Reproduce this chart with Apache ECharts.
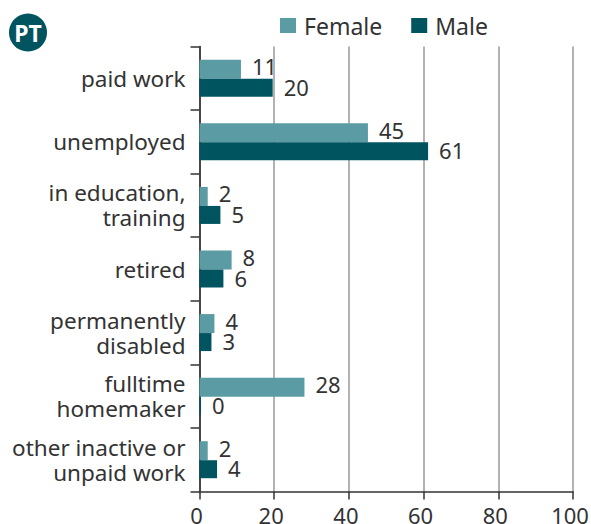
<!DOCTYPE html>
<html><head><meta charset="utf-8">
<style>html,body{margin:0;padding:0;background:#fff}#c{width:591px;height:524px}</style>
<script src="https://cdn.jsdelivr.net/npm/echarts@6/dist/echarts.min.js"></script>
</head><body><div id="c"></div>
<script>
const categories=["paid work","unemployed","in education,\ntraining","retired","permanently\ndisabled","fulltime\nhomemaker","other inactive or\nunpaid work"];
const female=[11,45,2,8,4,28,2];
const male=[20,61,5,6,3,0,4];
const femaleBars=[11.1,45.1,2.2,8.6,4,28.1,2.2];
const maleBars=[19.6,61.2,5.6,6.4,3.2,0.4,4.7];
const ticks=[0,20,40,60,80,100];
const font='"Noto Sans","Open Sans",sans-serif';
const chart=echarts.init(document.getElementById('c'),null,{renderer:'svg'});
function lab(arr,dy){return {show:true,position:'right',distance:11,offset:[0,dy],color:'#333',fontSize:22,fontFamily:font,formatter:p=>arr[p.dataIndex]};}
chart.setOption({
 animation:false,
 grid:{left:199.5,right:18,top:46.5,bottom:32.5,containLabel:false,outerBoundsMode:'none'},
 legend:{top:9,left:275,itemWidth:16,itemHeight:15,itemGap:29,icon:'rect',textStyle:{fontSize:23,color:'#333',fontFamily:font,padding:[0,0,0,3]},data:['Female','Male']},
 xAxis:{type:'value',min:0,max:100,interval:20,
  axisLine:{show:true,lineStyle:{color:'#333',width:1.5}},
  axisTick:{show:true,length:8,lineStyle:{color:'#333',width:1.5}},
  splitLine:{show:true,lineStyle:{color:'#999',width:1.5}},
  axisLabel:{color:'#333',fontSize:22,fontFamily:font,margin:12,padding:[0,6,0,0],hideOverlap:false,formatter:v=>ticks.includes(v)?String(v):''}},
 yAxis:{type:'category',inverse:true,data:categories,
  axisLine:{show:true,lineStyle:{color:'#222',width:1.5}},
  axisTick:{show:true,length:9,lineStyle:{color:'#333',width:1.5}},
  axisLabel:{color:'#333',fontSize:22.5,lineHeight:25,fontFamily:font,margin:14,padding:[0,0,4,0]}},
 series:[
  {name:'Female',type:'bar',data:femaleBars,barWidth:19,barGap:'0%',itemStyle:{color:'#5b9ba4'},label:lab(female,-3)},
  {name:'Male',type:'bar',data:maleBars,barWidth:18,itemStyle:{color:'#00545f'},label:lab(male,-1)}
 ],
 graphic:[
  {type:'circle',shape:{cx:28,cy:32.5,r:19},style:{fill:'#00545f'}},
  {type:'text',style:{x:28,y:32.5,text:'PT',fill:'#fff',font:'bold 23px '+font,textAlign:'center',textVerticalAlign:'middle'}}
 ]
});
</script></body></html>
